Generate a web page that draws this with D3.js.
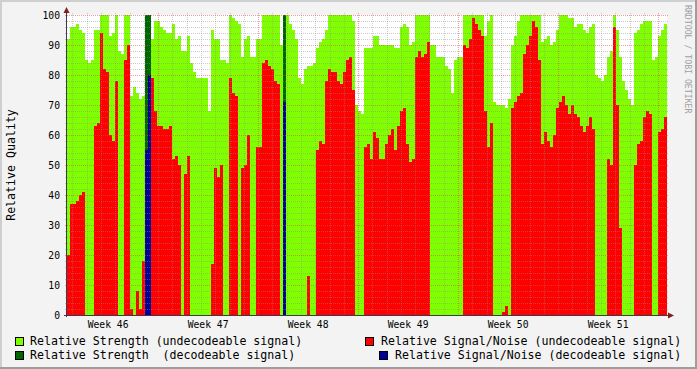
<!DOCTYPE html>
<html>
<head>
<meta charset="utf-8">
<script src="https://cdn.jsdelivr.net/npm/d3@7/dist/d3.min.js"></script>
<style>
html, body { margin: 0; padding: 0; background: #f3f3f3; }
svg { display: block; font-family: "DejaVu Sans Mono", monospace; }
text { white-space: pre; }
</style>
</head>
<body>
<div id="chart"></div>
<script>
// one value per step (5.04 h), 200 steps = 6 weeks
const startTime = new Date(2004, 10, 8, 15, 0);
const stepHours = 5.04;

const strengthUndec = [
  92, 96, 96, 97, 95, 94, 85, 84, 85, 95,
  95, 100, 100, 100, 93, 94, 100, 88, 87, 100,
  100, 73, 76, 74, 72, 73, 0, 0, 92, 98,
  98, 96, 95, 94, 94, 97, 92, 93, 88, 88,
  93, 84, 81, 79, 79, 79, 79, 68, 95, 92,
  92, 85, 85, 84, 100, 99, 98, 97, 86, 92,
  93, 86, 86, 92, 92, 100, 100, 100, 100, 100,
  100, 90, 0, 100, 97, 95, 92, 79, 77, 82,
  83, 83, 84, 89, 91, 92, 95, 100, 100, 100,
  100, 100, 100, 100, 100, 98, 70, 68, 67, 89,
  89, 89, 93, 93, 90, 90, 90, 90, 90, 89,
  89, 96, 97, 96, 90, 91, 100, 100, 100, 100,
  100, 90, 90, 86, 86, 86, 83, 82, 74, 85,
  86, 86, 100, 100, 100, 100, 100, 100, 100, 93,
  98, 100, 71, 70, 70, 70, 69, 72, 90, 93,
  98, 100, 100, 100, 100, 100, 100, 100, 91, 92,
  93, 90, 91, 95, 100, 100, 100, 99, 99, 96,
  97, 97, 95, 94, 96, 97, 80, 79, 78, 80,
  86, 88, 100, 95, 86, 78, 75, 72, 70, 94,
  95, 97, 98, 98, 98, 85, 86, 93, 95, 97
];

const snrUndec = [
  20, 37, 37, 38, 40, 41, 0, 0, 0, 63,
  64, 94, 82, 81, 60, 58, 78, 0, 0, 85,
  90, 2, 0, 8, 2, 18, 0, 0, 79, 68,
  63, 63, 62, 62, 63, 52, 53, 50, 0, 47,
  53, 0, 0, 0, 0, 0, 0, 0, 17, 49,
  46, 50, 0, 0, 79, 74, 73, 0, 49, 50,
  60, 0, 0, 56, 56, 84, 85, 83, 82, 78,
  77, 0, 0, 0, 0, 0, 0, 0, 0, 0,
  13, 0, 0, 55, 58, 57, 78, 82, 81, 81,
  78, 77, 81, 85, 86, 75, 0, 0, 0, 56,
  57, 52, 61, 59, 52, 52, 57, 60, 62, 55,
  63, 68, 69, 57, 51, 52, 86, 88, 86, 87,
  91, 0, 0, 0, 0, 0, 0, 0, 0, 0,
  0, 0, 90, 89, 92, 99, 97, 95, 93, 68,
  56, 64, 0, 0, 0, 1, 3, 0, 69, 71,
  73, 74, 87, 90, 93, 98, 96, 85, 57, 61,
  58, 56, 60, 69, 71, 73, 70, 67, 70, 67,
  66, 63, 61, 63, 66, 62, 0, 0, 0, 0,
  52, 50, 96, 70, 29, 0, 0, 0, 0, 50,
  57, 58, 66, 68, 67, 0, 0, 61, 62, 66
];

const strengthDec = [
  0, 0, 0, 0, 0, 0, 0, 0, 0, 0,
  0, 0, 0, 0, 0, 0, 0, 0, 0, 0,
  0, 0, 0, 0, 0, 0, 100, 100, 0, 0,
  0, 0, 0, 0, 0, 0, 0, 0, 0, 0,
  0, 0, 0, 0, 0, 0, 0, 0, 0, 0,
  0, 0, 0, 0, 0, 0, 0, 0, 0, 0,
  0, 0, 0, 0, 0, 0, 0, 0, 0, 0,
  0, 0, 100, 0, 0, 0, 0, 0, 0, 0,
  0, 0, 0, 0, 0, 0, 0, 0, 0, 0,
  0, 0, 0, 0, 0, 0, 0, 0, 0, 0,
  0, 0, 0, 0, 0, 0, 0, 0, 0, 0,
  0, 0, 0, 0, 0, 0, 0, 0, 0, 0,
  0, 0, 0, 0, 0, 0, 0, 0, 0, 0,
  0, 0, 0, 0, 0, 0, 0, 0, 0, 0,
  0, 0, 0, 0, 0, 0, 0, 0, 0, 0,
  0, 0, 0, 0, 0, 0, 0, 0, 0, 0,
  0, 0, 0, 0, 0, 0, 0, 0, 0, 0,
  0, 0, 0, 0, 0, 0, 0, 0, 0, 0,
  0, 0, 0, 0, 0, 0, 0, 0, 0, 0,
  0, 0, 0, 0, 0, 0, 0, 0, 0, 0
];

const snrDec = [
  0, 0, 0, 0, 0, 0, 0, 0, 0, 0,
  0, 0, 0, 0, 0, 0, 0, 0, 0, 0,
  0, 0, 0, 0, 0, 0, 55, 80, 0, 0,
  0, 0, 0, 0, 0, 0, 0, 0, 0, 0,
  0, 0, 0, 0, 0, 0, 0, 0, 0, 0,
  0, 0, 0, 0, 0, 0, 0, 0, 0, 0,
  0, 0, 0, 0, 0, 0, 0, 0, 0, 0,
  0, 0, 71, 0, 0, 0, 0, 0, 0, 0,
  0, 0, 0, 0, 0, 0, 0, 0, 0, 0,
  0, 0, 0, 0, 0, 0, 0, 0, 0, 0,
  0, 0, 0, 0, 0, 0, 0, 0, 0, 0,
  0, 0, 0, 0, 0, 0, 0, 0, 0, 0,
  0, 0, 0, 0, 0, 0, 0, 0, 0, 0,
  0, 0, 0, 0, 0, 0, 0, 0, 0, 0,
  0, 0, 0, 0, 0, 0, 0, 0, 0, 0,
  0, 0, 0, 0, 0, 0, 0, 0, 0, 0,
  0, 0, 0, 0, 0, 0, 0, 0, 0, 0,
  0, 0, 0, 0, 0, 0, 0, 0, 0, 0,
  0, 0, 0, 0, 0, 0, 0, 0, 0, 0,
  0, 0, 0, 0, 0, 0, 0, 0, 0, 0
];

const yTicks = [0, 10, 20, 30, 40, 50, 60, 70, 80, 90, 100];

const seriesNames = [
  "Relative Strength (undecodeable signal)",
  "Relative Signal/Noise (undecodeable signal)",
  "Relative Strength  (decodeable signal)",
  "Relative Signal/Noise (decodeable signal)"
];
const seriesColors = ["#80ff00", "#ff0000", "#006600", "#000099"];

// canvas
const width = 697, height = 369;
const plotL = 67, plotR = 667, plotT = 15, plotB = 315;

const svg = d3.select("#chart").append("svg")
  .attr("width", width)
  .attr("height", height);

svg.append("rect").attr("width", width).attr("height", height).attr("fill", "#f3f3f3");
// rrd style shading
svg.append("rect").attr("x", 0).attr("y", 0).attr("width", width).attr("height", 2).attr("fill", "#cfcfcf");
svg.append("rect").attr("x", 0).attr("y", 0).attr("width", 2).attr("height", height).attr("fill", "#cfcfcf");
svg.append("rect").attr("x", 0).attr("y", height - 2).attr("width", width).attr("height", 2).attr("fill", "#9e9e9e");
svg.append("rect").attr("x", width - 2).attr("y", 0).attr("width", 2).attr("height", height).attr("fill", "#9e9e9e");

svg.append("rect")
  .attr("x", plotL).attr("y", plotT)
  .attr("width", plotR - plotL).attr("height", plotB - plotT)
  .attr("fill", "#ffffff");

const times = d3.range(strengthUndec.length + 1)
  .map(i => new Date(+startTime + i * stepHours * 3600000));
const endTime = times[times.length - 1];

const x = d3.scaleTime().domain([startTime, endTime]).range([plotL, plotR]);
const y = d3.scaleLinear().domain([0, 100]).range([plotB, plotT]);

const area = d3.area()
  .x((d, i) => x(times[i]))
  .y0(y(0))
  .y1(d => y(d))
  .curve(d3.curveStepAfter);

[strengthUndec, snrUndec, strengthDec, snrDec].forEach((vals, k) => {
  svg.append("path")
    .datum(vals.concat([vals[vals.length - 1]]))
    .attr("d", area)
    .attr("fill", seriesColors[k])
    .attr("shape-rendering", "crispEdges");
});

// grid
const grid = svg.append("g").attr("shape-rendering", "crispEdges");
const minorY = d3.range(0, 101, 2).filter(v => v % 10 !== 0);
grid.selectAll(".hmin").data(minorY).enter().append("line")
  .attr("x1", plotL - 2).attr("x2", plotR + 2)
  .attr("y1", d => Math.round(y(d)) + 0.5).attr("y2", d => Math.round(y(d)) + 0.5)
  .attr("stroke", "rgba(143,143,143,0.45)")
  .attr("stroke-dasharray", "1,1");

const days = d3.timeDay.range(startTime, endTime).filter(d => d.getDay() !== 1);
grid.selectAll(".vmin").data(days).enter().append("line")
  .attr("x1", d => Math.round(x(d)) + 0.5).attr("x2", d => Math.round(x(d)) + 0.5)
  .attr("y1", plotT - 2).attr("y2", plotB + 2)
  .attr("stroke", "rgba(143,143,143,0.45)")
  .attr("stroke-dasharray", "1,1");

grid.selectAll(".hmaj").data(yTicks.filter(v => v > 0)).enter().append("line")
  .attr("x1", plotL - 2).attr("x2", plotR + 2)
  .attr("y1", d => Math.round(y(d)) + 0.5).attr("y2", d => Math.round(y(d)) + 0.5)
  .attr("stroke", "rgba(222,79,79,0.55)")
  .attr("stroke-dasharray", "1,1");

const weeks = d3.timeMonday.range(startTime, endTime);
grid.selectAll(".vmaj").data(weeks).enter().append("line")
  .attr("x1", d => Math.round(x(d)) + 0.5).attr("x2", d => Math.round(x(d)) + 0.5)
  .attr("y1", plotT - 2).attr("y2", plotB + 2)
  .attr("stroke", "rgba(222,79,79,0.55)")
  .attr("stroke-dasharray", "1,1");

// axes
svg.append("line")
  .attr("x1", plotL - 0.5).attr("x2", plotL - 0.5)
  .attr("y1", plotB + 2).attr("y2", plotT - 4)
  .attr("stroke", "#3a3a52");
svg.append("line")
  .attr("x1", plotL - 3).attr("x2", plotR + 3)
  .attr("y1", plotB + 0.5).attr("y2", plotB + 0.5)
  .attr("stroke", "#3a3a52");
svg.append("polygon")
  .attr("points", `${plotL - 3.5},${plotT - 2} ${plotL + 2.5},${plotT - 2} ${plotL - 0.5},${plotT - 8}`)
  .attr("fill", "#801f1f");
svg.append("polygon")
  .attr("points", `${plotR + 1},${plotB - 2.5} ${plotR + 1},${plotB + 3.5} ${plotR + 7},${plotB + 0.5}`)
  .attr("fill", "#801f1f");

// y labels
svg.selectAll(".ylab").data(yTicks).enter().append("text")
  .attr("x", 60)
  .attr("y", d => y(d) + 3.5)
  .attr("text-anchor", "end")
  .style("font-size", "9.7px")
  .attr("fill", "#000")
  .text(d => d);

// x labels, centered in each week
const weekFmt = d3.timeFormat("%V");
const weekStarts = [d3.timeMonday.offset(weeks[0], -1)].concat(weeks.slice(0, -1));
svg.selectAll(".xlab").data(weekStarts).enter().append("text")
  .attr("x", d => x(d3.timeHour.offset(d, 84)))
  .attr("y", 327.5)
  .attr("text-anchor", "middle")
  .style("font-size", "9.7px")
  .attr("fill", "#000")
  .text(d => "Week " + weekFmt(d));

// axis title
svg.append("text")
  .attr("transform", `translate(15, ${(plotT + plotB) / 2}) rotate(-90)`)
  .attr("text-anchor", "middle")
  .style("font-size", "11.6px")
  .attr("fill", "#000")
  .text("Relative Quality");

// watermark
svg.append("text")
  .attr("transform", "translate(685, 5) rotate(90)")
  .style("font-size", "8.2px")
  .attr("fill", "#a0a0a0")
  .text("RRDTOOL / TOBI OETIKER");

// legend
const legendPos = [
  { bx: 15, by: 337, tx: 30, ty: 345 },
  { bx: 365, by: 337, tx: 381, ty: 345 },
  { bx: 15, by: 351, tx: 30, ty: 359 },
  { bx: 379, by: 351, tx: 395, ty: 359 }
];
seriesNames.forEach((name, k) => {
  const p = legendPos[k];
  svg.append("rect")
    .attr("x", p.bx + 0.5).attr("y", p.by + 0.5)
    .attr("width", 8).attr("height", 8)
    .attr("fill", seriesColors[k])
    .attr("stroke", "#000");
  svg.append("text")
    .attr("x", p.tx).attr("y", p.ty)
    .style("font-size", "11.6px")
    .attr("fill", "#000")
    .text(name);
});
</script>
</body>
</html>
